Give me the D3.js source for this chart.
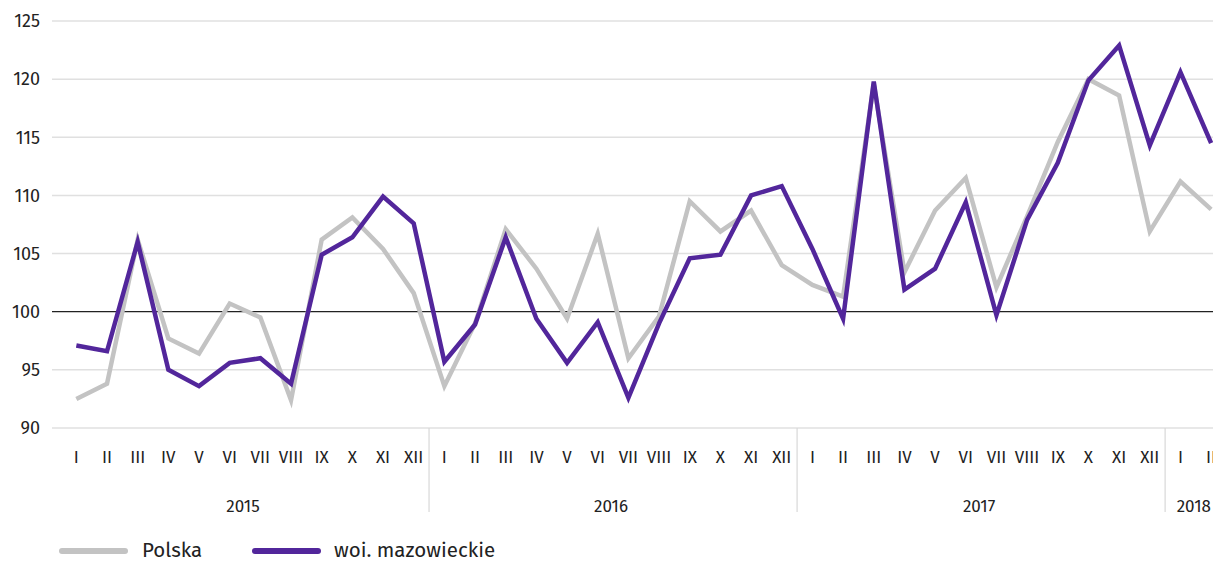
<!DOCTYPE html>
<html>
<head>
<meta charset="utf-8">
<script src="https://cdn.jsdelivr.net/npm/d3@7"></script>
<style>
  body { margin: 0; background: #fff; }
  svg { font-family: "Fira Sans", "Noto Sans", "Open Sans", sans-serif; }
</style>
</head>
<body>
<div id="chart"></div>
<script>
var width = 1213,
    height = 562;

var years = ["2015", "2016", "2017", "2018"];
var months = ["I", "II", "III", "IV", "V", "VI", "VII", "VIII", "IX", "X", "XI", "XII"];
var monthsPerYear = [12, 12, 12, 2];

var polska = [
  92.5, 93.8, 106.2, 97.7, 96.4, 100.7, 99.5, 92.4, 106.2, 108.1, 105.4, 101.6,
  93.6, 99.0, 107.1, 103.7, 99.4, 106.7, 96.0, 99.6, 109.5, 106.9, 108.7, 104.0,
  102.3, 101.3, 119.6, 103.4, 108.7, 111.5, 102.1, 108.2, 114.6, 120.0, 118.6, 106.9,
  111.2, 108.8
];
var mazowieckie = [
  97.1, 96.6, 106.0, 95.0, 93.6, 95.6, 96.0, 93.8, 104.9, 106.4, 109.9, 107.6,
  95.7, 98.9, 106.4, 99.4, 95.6, 99.1, 92.6, 99.0, 104.6, 104.9, 110.0, 110.8,
  105.4, 99.4, 119.8, 101.9, 103.7, 109.4, 99.7, 107.9, 112.8, 119.9, 122.9, 114.3,
  120.6, 114.5
];
var yTicks = [90, 95, 100, 105, 110, 115, 120, 125];

var seriesNames = ["Polska", "woi. mazowieckie"];
var colors = ["#c3c3c3", "#52269b"];

// category keys year-month
var cats = [];
years.forEach(function (y, i) {
  for (var m = 0; m < monthsPerYear[i]; m++) cats.push(y + "-" + m);
});

var svg = d3.select("#chart").append("svg")
    .attr("width", width)
    .attr("height", height);

var x = d3.scaleBand().domain(cats).range([61, 61 + 38 * 30.67]);
var y = d3.scaleLinear().domain([90, 125]).range([428, 21]);

// grid
svg.append("g").selectAll("line")
  .data(yTicks)
  .join("line")
  .attr("x1", 52).attr("x2", width)
  .attr("y1", d => y(d)).attr("y2", d => y(d))
  .attr("stroke", d => d === 100 ? "#222" : "#e0e0e0")
  .attr("stroke-width", d => d === 100 ? 1.2 : 1.5);

svg.append("g").selectAll("text")
  .data(yTicks)
  .join("text")
  .attr("x", 40)
  .attr("y", d => y(d))
  .attr("dy", "0.35em")
  .attr("text-anchor", "end")
  .attr("font-size", 18)
  .attr("fill", "#222")
  .text(d => d);

// month labels
svg.append("g").selectAll("text")
  .data(cats)
  .join("text")
  .attr("x", d => x(d) + x.bandwidth() / 2)
  .attr("y", 463)
  .attr("text-anchor", "middle")
  .attr("font-size", 17)
  .attr("fill", "#222")
  .text(d => months[+d.split("-")[1]]);

// year dividers and labels
var yearStart = {}, idx = 0;
years.forEach(function (yr, i) {
  yearStart[yr] = [idx, idx + monthsPerYear[i]];
  idx += monthsPerYear[i];
});

svg.append("g").selectAll("line")
  .data(years.slice(1))
  .join("line")
  .attr("x1", d => x(cats[yearStart[d][0]]))
  .attr("x2", d => x(cats[yearStart[d][0]]))
  .attr("y1", 428).attr("y2", 512)
  .attr("stroke", "#d8d8d8")
  .attr("stroke-width", 1.2);

svg.append("g").selectAll("text")
  .data(years)
  .join("text")
  .attr("x", function (d) {
    var a = x(cats[yearStart[d][0]]);
    var b = x(cats[yearStart[d][1] - 1]) + x.bandwidth();
    return (a + b) / 2 - 2;
  })
  .attr("y", 512)
  .attr("text-anchor", "middle")
  .attr("font-size", 17)
  .attr("fill", "#222")
  .text(d => d);

// lines
var line = d3.line()
  .x((d, i) => x(cats[i]) + x.bandwidth() / 2)
  .y(d => y(d));

[polska, mazowieckie].forEach(function (s, i) {
  svg.append("path")
    .datum(s)
    .attr("d", line)
    .attr("fill", "none")
    .attr("stroke", colors[i])
    .attr("stroke-width", 4.5)
    .attr("stroke-linejoin", "miter");
});

// legend
var legendX = [60, 253];
var lg = svg.append("g").selectAll("g")
  .data(seriesNames)
  .join("g")
  .attr("transform", (d, i) => `translate(${legendX[i]}, 551)`);

lg.append("line")
  .attr("x1", 2).attr("x2", 65)
  .attr("stroke", (d, i) => colors[i])
  .attr("stroke-width", 6)
  .attr("stroke-linecap", "round");

lg.append("text")
  .attr("x", (d, i) => i === 0 ? 82 : 81)
  .attr("y", 6)
  .attr("font-size", 20.5)
  .attr("fill", "#222")
  .text(d => d);
</script>
</body>
</html>
